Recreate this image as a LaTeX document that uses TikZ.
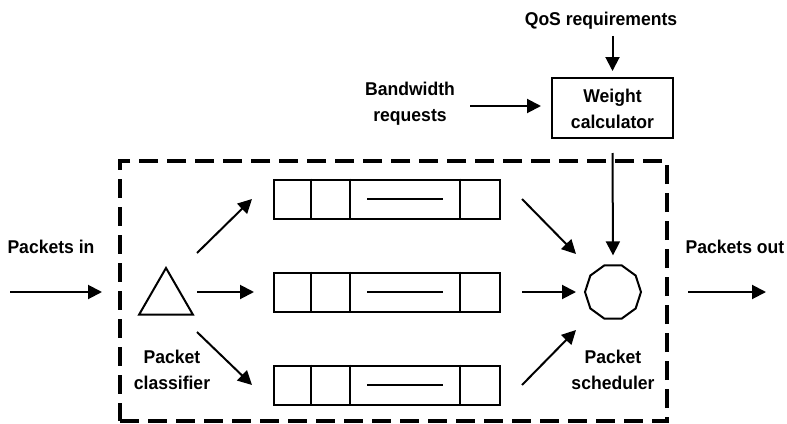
\documentclass[tikz,border=0pt]{standalone}
\usepackage{fontspec}
\setmainfont{Liberation Sans}[FakeStretch=0.95]
\usetikzlibrary{arrows.meta,calc,shapes.geometric}

\tikzset{
  lbl/.style={font=\fontsize{18.5}{26}\selectfont\bfseries, align=center, inner sep=0pt},
  arr/.style={line width=2pt, -{Triangle[length=14pt,width=14pt]}},
  queue/.style={draw, line width=2pt, minimum width=226pt, minimum height=39pt, inner sep=0pt},
  box/.style={draw, line width=2pt, minimum width=121pt, minimum height=60pt, inner sep=0pt},
  frame/.style={draw, line width=4pt, dash pattern=on 19pt off 9pt, minimum width=547pt, minimum height=260pt, inner sep=0pt},
}

\begin{document}
\begin{tikzpicture}[x=1pt, y=-1pt]
  \useasboundingbox (0,0) rectangle (787,423);

  % scheduler domain
  \node[frame] (dom) at (393.5,291) {};

  % weight calculator and its inputs
  \node[box] (wc) at (612.5,108) {};
  \node[lbl] (wct) at (612.5,109) {Weight\\calculator};
  \node[lbl] (qos) at (601,21) {QoS requirements};
  \node[lbl] (bw) at (410,104) {Bandwidth\\requests};

  % queues
  \foreach \n/\y in {q1/199, q2/292, q3/385} {
    \node[queue] (\n) at (387,\y) {};
    \draw[line width=2pt] ($(\n.north west)+(38,0)$) -- ($(\n.south west)+(38,0)$);
    \draw[line width=2pt] ($(\n.north west)+(77,0)$) -- ($(\n.south west)+(77,0)$);
    \draw[line width=2pt] ($(\n.north west)+(187,0)$) -- ($(\n.south west)+(187,0)$);
    \draw[line width=2pt] ($(\n.west)+(94,0)$) -- ($(\n.west)+(170,0)$);
  }

  % classifier and scheduler
  \node[draw, line width=2pt, regular polygon, regular polygon sides=3, minimum size=62pt, inner sep=0pt] (cls) at (166,299) {};
  \node[draw, line width=2pt, regular polygon, regular polygon sides=10, minimum size=56pt, inner sep=0pt] (sch) at (613,292) {};
  \node[lbl] (clst) at (172,370) {Packet\\classifier};
  \node[lbl] (scht) at (613,370) {Packet\\scheduler};

  % outside labels
  \node[lbl] (pin) at (51,247) {Packets in};
  \node[lbl] (pout) at (735,247) {Packets out};
  \coordinate (inS) at (10,292);
  \coordinate (outE) at (766,292);

  % connectors
  \draw[arr] (qos.south -| wc.north) ++(0,6) coordinate (qa) -- ($(wc.north)+(0,-6)$);
  \draw[arr] ($(bw.east)+(15,2)$) -- ($(wc.west)+(-10,-2)$);
  \draw[arr] ($(wc.south)+(0,14)$) -- ($(sch.north)+(0,-9)$);

  \draw[arr] (inS) -- ($(cls.center)+(-64,-7)$);
  \draw[arr] ($(cls.center)+(31,-46)$) -- ($(q1.west)+(-21,0)$);
  \draw[arr] ($(cls.center)+(31,-7)$) -- ($(q2.west)+(-19,0)$);
  \draw[arr] ($(cls.center)+(31,33)$) -- ($(q3.west)+(-21,0)$);

  \draw[arr] ($(q1.east)+(21,0)$) -- ($(sch.center)+(-37,-38)$);
  \draw[arr] ($(q2.east)+(21,0)$) -- ($(sch.center)+(-37,0)$);
  \draw[arr] ($(q3.east)+(21,0)$) -- ($(sch.center)+(-37,38)$);

  \draw[arr] ($(sch.center)+(75,0)$) -- (outE);
\end{tikzpicture}
\end{document}
